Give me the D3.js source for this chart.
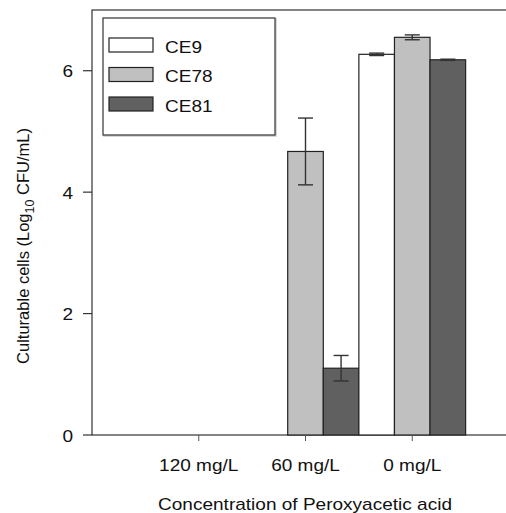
<!DOCTYPE html>
<html>
<head>
<meta charset="utf-8">
<script src="https://cdn.jsdelivr.net/npm/d3@7"></script>
<style>
  body { margin: 0; background: #fff; }
  text { font-family: "Liberation Sans", Arial, sans-serif; fill: #111; }
</style>
</head>
<body>
<div id="chart"></div>
<script>
// data
var concentrations = ["120 mg/L", "60 mg/L", "0 mg/L"];
var strains = ["CE9", "CE78", "CE81"];
var ce9Values = [0, 0, 6.27];
var ce78Values = [0, 4.67, 6.55];
var ce81Values = [0, 1.10, 6.18];
var ce9Errors = [0, 0, 0.02];
var ce78Errors = [0, 0.55, 0.04];
var ce81Errors = [0, 0.21, 0.01];
var yTicks = [0, 2, 4, 6];

var colors = { CE9: "#ffffff", CE78: "#c0c0c0", CE81: "#606060" };

var svgWidth = 506;
var svgHeight = 513;
var plot = { left: 92, right: 519, top: 10, bottom: 435 };
var stretch = 1.12; // text in the picture is a bit wider than normal

var svg = d3.select("#chart")
    .append("svg")
    .attr("width", svgWidth)
    .attr("height", svgHeight);

// build rows for the bars
var values = { CE9: ce9Values, CE78: ce78Values, CE81: ce81Values };
var errors = { CE9: ce9Errors, CE78: ce78Errors, CE81: ce81Errors };
var rows = [];
concentrations.forEach(function (c, i) {
    strains.forEach(function (s) {
        rows.push({ conc: c, strain: s, value: values[s][i], err: errors[s][i] });
    });
});

var x = d3.scalePoint()
    .domain(concentrations)
    .range([plot.left, plot.right])
    .padding(1);

var step = x.step();

var xSub = d3.scaleBand()
    .domain(strains)
    .range([-step / 2, step / 2]);

var y = d3.scaleLinear()
    .domain([0, 7])
    .range([plot.bottom, plot.top]);

// frame
svg.append("rect")
    .attr("x", plot.left)
    .attr("y", plot.top)
    .attr("width", plot.right - plot.left)
    .attr("height", plot.bottom - plot.top)
    .attr("fill", "none")
    .attr("stroke", "#333")
    .attr("stroke-width", 1.2);

// bars
svg.append("g")
    .selectAll("rect")
    .data(rows.filter(function (d) { return d.value > 0; }))
    .enter()
    .append("rect")
    .attr("x", function (d) { return x(d.conc) + xSub(d.strain); })
    .attr("y", function (d) { return y(d.value); })
    .attr("width", xSub.bandwidth())
    .attr("height", function (d) { return y(0) - y(d.value); })
    .attr("fill", function (d) { return colors[d.strain]; })
    .attr("stroke", "#222")
    .attr("stroke-width", 1.2);

// error bars
var errRows = rows.filter(function (d) { return d.err > 0; });
var eb = svg.append("g")
    .attr("stroke", "#333")
    .attr("stroke-width", 1.4);

errRows.forEach(function (d) {
    var cx = x(d.conc) + xSub(d.strain) + xSub.bandwidth() / 2;
    var capW = 7.5;
    eb.append("line")
        .attr("x1", cx).attr("x2", cx)
        .attr("y1", y(d.value + d.err)).attr("y2", y(d.value - d.err));
    [d.value + d.err, d.value - d.err].forEach(function (v) {
        eb.append("line")
            .attr("x1", cx - capW).attr("x2", cx + capW)
            .attr("y1", y(v)).attr("y2", y(v));
    });
});

// y axis ticks
var yAxis = svg.append("g");
yTicks.forEach(function (t) {
    yAxis.append("line")
        .attr("x1", plot.left - 9).attr("x2", plot.left)
        .attr("y1", y(t)).attr("y2", y(t))
        .attr("stroke", "#333").attr("stroke-width", 1.2);
    yAxis.append("g")
        .attr("transform", "translate(" + (plot.left - 19) + "," + (y(t) + 6.5) + ") scale(" + stretch + ",1)")
        .append("text")
        .attr("text-anchor", "end")
        .style("font-size", "17px")
        .text(t);
});

// x axis ticks
var xAxis = svg.append("g");
concentrations.forEach(function (c) {
    xAxis.append("line")
        .attr("x1", x(c)).attr("x2", x(c))
        .attr("y1", plot.bottom).attr("y2", plot.bottom + 6)
        .attr("stroke", "#555").attr("stroke-width", 1);
    xAxis.append("g")
        .attr("transform", "translate(" + x(c) + ",471) scale(" + stretch + ",1)")
        .append("text")
        .attr("text-anchor", "middle")
        .style("font-size", "17px")
        .text(c);
});

// axis titles
svg.append("g")
    .attr("transform", "translate(" + ((plot.left + plot.right) / 2 - 0.5) + ",510) scale(" + stretch + ",1)")
    .append("text")
    .attr("text-anchor", "middle")
    .style("font-size", "17px")
    .text("Concentration of Peroxyacetic acid");

var yTitle = svg.append("text")
    .attr("transform", "translate(29,246) rotate(-90)")
    .attr("text-anchor", "middle")
    .style("font-size", "16.5px");
yTitle.append("tspan").text("Culturable cells (Log");
yTitle.append("tspan").attr("dy", 5).style("font-size", "12.5px").text("10");
yTitle.append("tspan").attr("dy", -5).text(" CFU/mL)");

// legend
var legend = svg.append("g");
legend.append("rect")
    .attr("x", 104).attr("y", 19)
    .attr("width", 172).attr("height", 117)
    .attr("fill", "none")
    .attr("stroke", "#ccc")
    .attr("stroke-width", 1.5);
legend.append("rect")
    .attr("x", 103).attr("y", 18)
    .attr("width", 172).attr("height", 117)
    .attr("fill", "#fff")
    .attr("stroke", "#333")
    .attr("stroke-width", 1.2);

strains.forEach(function (s, i) {
    var ly = 38 + i * 29.5;
    legend.append("rect")
        .attr("x", 109).attr("y", ly)
        .attr("width", 44).attr("height", 14)
        .attr("fill", colors[s])
        .attr("stroke", "#222")
        .attr("stroke-width", 1.2);
    legend.append("g")
        .attr("transform", "translate(165," + (ly + 14.5) + ") scale(" + stretch + ",1)")
        .append("text")
        .style("font-size", "17px")
        .text(s);
});
</script>
</body>
</html>
